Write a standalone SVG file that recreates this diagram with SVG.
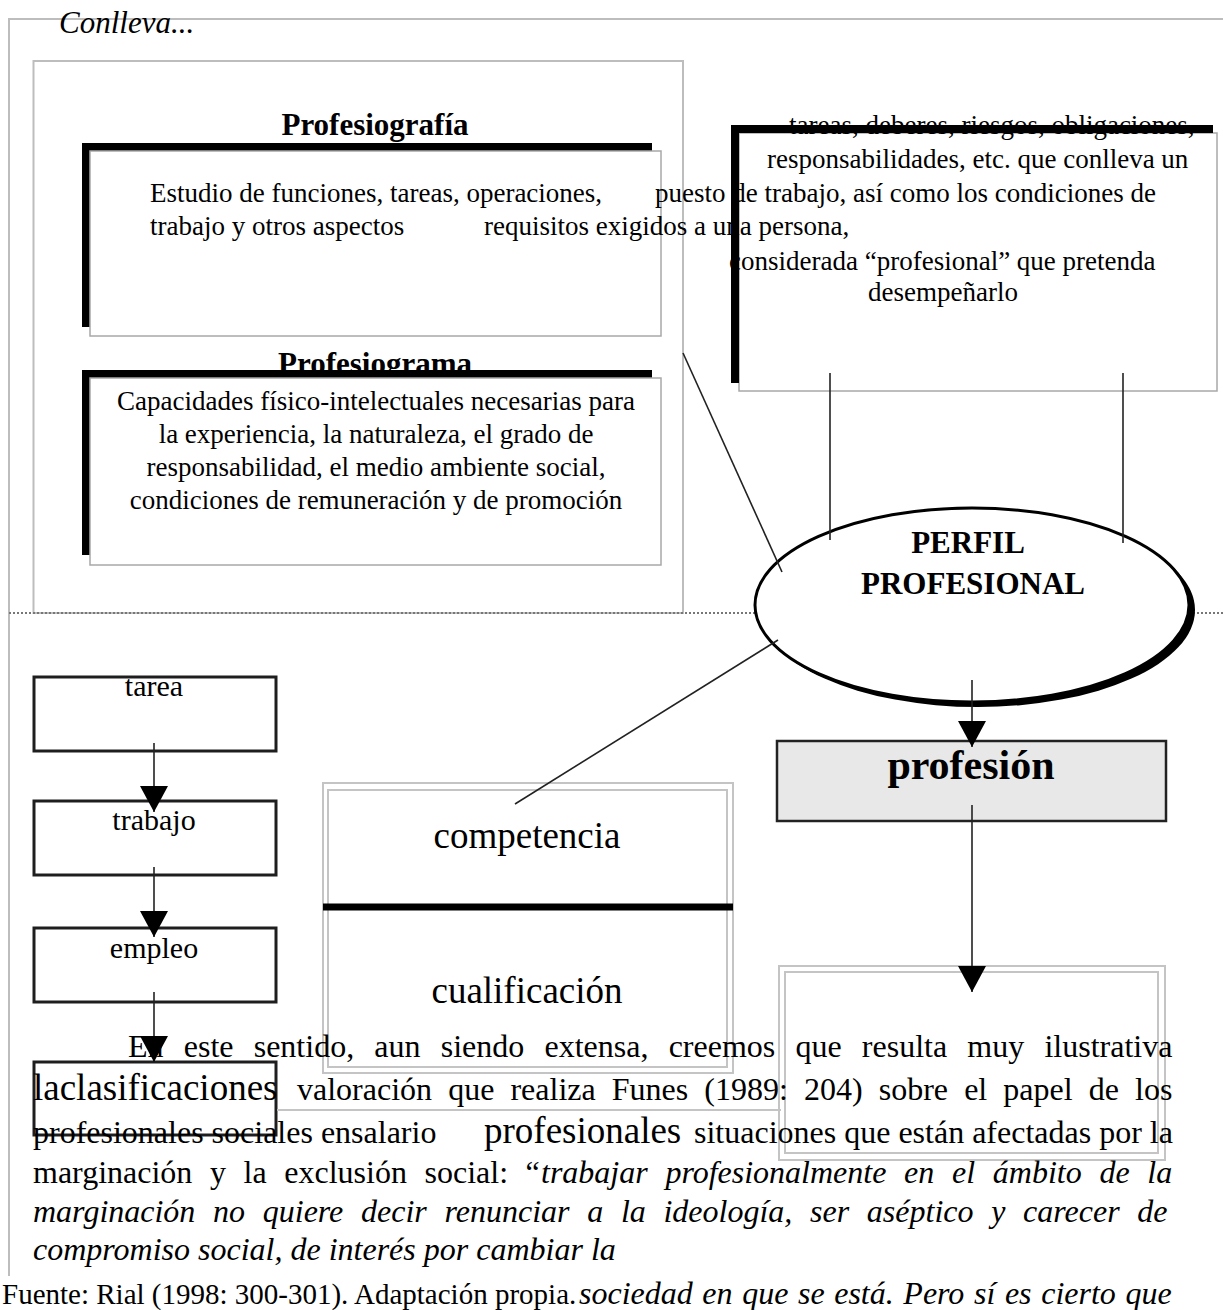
<svg xmlns="http://www.w3.org/2000/svg" width="1223" height="1310" viewBox="0 0 1223 1310">
<style>
.frame{fill:none;stroke:#bdbdbd;stroke-width:2}
.gbox{fill:#fff;stroke:#a8a8a8;stroke-width:1.5}
.dbl{fill:none;stroke:#c4c4c4;stroke-width:2}
.sh{fill:#000}
.t{font-family:"Liberation Serif","Times New Roman",serif;fill:#000}
.d{font-size:27px}
.b{font-weight:bold}
.i{font-style:italic}
.body{font-size:32px}
.dk{fill:#fff;stroke:#1e1e1e;stroke-width:3}
.conn{stroke:#222;stroke-width:1.6;fill:none}
</style>
<defs>
<marker id="ah" viewBox="0 0 10 10" refX="10" refY="5" markerWidth="26" markerHeight="28" markerUnits="userSpaceOnUse" orient="auto" preserveAspectRatio="none"><path d="M0,0 L10,5 L0,10 z" fill="#000"/></marker>
</defs>
<rect width="1223" height="1310" fill="#fff"/>
<g id="outer-frame">
<path class="frame" d="M9,1276 V19 H1223"/>
<rect class="frame" x="33.5" y="61" width="649.5" height="552"/>
<line x1="9" y1="613" x2="1223" y2="613" stroke="#777" stroke-width="2" stroke-dasharray="2,2"/>
<text class="t i" x="59" y="33" font-size="31">Conlleva...</text>
</g>
<g id="profesiografia">
<text class="t b" x="375" y="135" font-size="31" text-anchor="middle">Profesiografía</text>
<rect class="sh" x="82" y="143" width="570" height="184"/>
<rect class="gbox" x="90" y="151" width="571" height="185"/>
</g>
<g id="definicion">
<rect class="gbox" x="739" y="133" width="478" height="258"/>
<text class="t d" x="789" y="134">tareas, deberes, riesgos, obligaciones,</text>
<text class="t d" x="767" y="168">responsabilidades, etc. que conlleva un</text>
<text class="t d" x="150" y="202">Estudio de funciones, tareas, operaciones,</text>
<text class="t d" x="655" y="202">puesto de trabajo, así como los condiciones de</text>
<text class="t d" x="150" y="235">trabajo y otros aspectos</text>
<text class="t d" x="484" y="235">requisitos exigidos a una persona,</text>
<text class="t d" x="729" y="270">considerada “profesional” que pretenda</text>
<text class="t d" x="868" y="301">desempeñarlo</text>
<path class="sh" d="M731,125 H1213 V133 H739 V383 H731 Z"/>
</g>
<g id="profesiograma">
<text class="t b" x="375" y="374" font-size="31" text-anchor="middle">Profesiograma</text>
<rect class="sh" x="82" y="370" width="570" height="185"/>
<rect class="gbox" x="90" y="378" width="571" height="187"/>
<text class="t d" x="376" y="410" text-anchor="middle">Capacidades físico-intelectuales necesarias para</text>
<text class="t d" x="376" y="443" text-anchor="middle">la experiencia, la naturaleza, el grado de</text>
<text class="t d" x="376" y="476" text-anchor="middle">responsabilidad, el medio ambiente social,</text>
<text class="t d" x="376" y="509" text-anchor="middle">condiciones de remuneración y de promoción</text>
</g>
<g id="perfil">
<ellipse cx="978" cy="610" rx="217" ry="97" fill="#000"/>
<ellipse cx="972" cy="605" rx="217" ry="97" fill="#fff" stroke="#000" stroke-width="3"/>
<text class="t b" x="968" y="553" font-size="31" text-anchor="middle">PERFIL</text>
<text class="t b" x="973" y="594" font-size="31" text-anchor="middle">PROFESIONAL</text>
</g>
<g id="tarea">
<rect class="dk" x="34" y="677" width="242" height="74"/>
<text class="t" x="154" y="696" font-size="30" text-anchor="middle">tarea</text>
</g>
<g id="trabajo">
<rect class="dk" x="34" y="801" width="242" height="74"/>
<text class="t" x="154" y="830" font-size="30" text-anchor="middle">trabajo</text>
</g>
<g id="empleo">
<rect class="dk" x="34" y="928" width="242" height="74"/>
<text class="t" x="154" y="958" font-size="30" text-anchor="middle">empleo</text>
</g>
<g id="clasificaciones">
<rect class="dk" x="34" y="1062" width="242" height="73" fill="none"/>
</g>
<g id="competencia">
<rect class="dbl" x="323" y="783" width="410" height="290"/>
<rect class="dbl" x="328" y="790" width="399" height="277"/>
<rect x="323" y="903.5" width="410" height="7" fill="#000"/>
<text class="t" x="527" y="848" font-size="37" text-anchor="middle">competencia</text>
<text class="t" x="527" y="1003" font-size="37" text-anchor="middle">cualificación</text>
<line x1="277" y1="1110" x2="781" y2="1110" stroke="#c4c4c4" stroke-width="2"/>
</g>
<g id="profesion">
<rect x="777" y="741" width="389" height="80" fill="#e8e8e8" stroke="#222" stroke-width="2.5"/>
<text class="t b" x="971" y="779" font-size="42" text-anchor="middle">profesión</text>
</g>
<g id="destino">
<rect class="dbl" x="779" y="966" width="386" height="194"/>
<rect class="dbl" x="785" y="972" width="373" height="181"/>
</g>
<g id="connectors">
<line class="conn" x1="683" y1="353" x2="782" y2="572"/>
<line class="conn" x1="830" y1="373" x2="830" y2="540"/>
<line class="conn" x1="1123" y1="373" x2="1123" y2="543"/>
<line class="conn" x1="778" y1="640" x2="515" y2="804"/>
<line class="conn" x1="972" y1="680" x2="972" y2="747" marker-end="url(#ah)"/>
<line class="conn" x1="972" y1="805" x2="972" y2="992" marker-end="url(#ah)"/>
<line class="conn" x1="154" y1="743" x2="154" y2="812" marker-end="url(#ah)"/>
<line class="conn" x1="154" y1="867" x2="154" y2="937" marker-end="url(#ah)"/>
<line class="conn" x1="154" y1="992" x2="154" y2="1062" marker-end="url(#ah)"/>
</g>
<g id="parrafo" class="t">
<text class="body" x="128" y="1057" word-spacing="12.2">En este sentido, aun siendo extensa, creemos que resulta muy ilustrativa</text>
<text x="33" y="1100" font-size="37">laclasificaciones</text>
<text class="body" x="297" y="1100" word-spacing="8.1">valoración que realiza Funes (1989: 204) sobre el papel de los</text>
<text class="body" x="33" y="1143">profesionales sociales ensalario</text>
<text x="484" y="1143" font-size="37">profesionales</text>
<text class="body" x="694" y="1143">situaciones que están afectadas por la</text>
<text class="body" x="33" y="1183" word-spacing="9.6">marginación y la exclusión social: “</text>
<text class="body i" x="541" y="1183" word-spacing="9.7">trabajar profesionalmente en el ámbito de la</text>
<text class="body i" x="33" y="1222" word-spacing="9.7">marginación no quiere decir renunciar a la ideología, ser aséptico y carecer de</text>
<text class="body i" x="33" y="1260">compromiso social, de interés por cambiar la</text>
<text x="2" y="1304" font-size="29">Fuente: Rial (1998: 300-301). Adaptación propia.</text>
<text class="body i" x="579" y="1304" word-spacing="1.6">sociedad en que se está. Pero sí es cierto que</text>
</g>
</svg>
